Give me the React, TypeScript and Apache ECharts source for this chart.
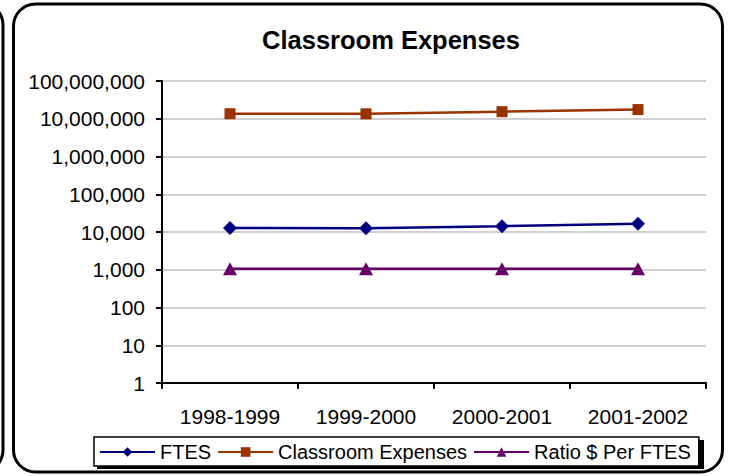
import React, { useEffect, useRef } from "react";
import * as echarts from "echarts";

const categories = ["1998-1999", "1999-2000", "2000-2001", "2001-2002"];
const ftes = [12700, 12600, 14300, 16600];
const classroomExpenses = [13600000, 13500000, 15400000, 17500000];
const ratioPerFtes = [1070, 1070, 1070, 1060];
const seriesNames = ["FTES", "Classroom Expenses", "Ratio $ Per FTES"];
const yMin = 1;
const yMax = 100000000;

const FONT = "'Liberation Sans', Arial, sans-serif";

export default function App() {
  const ref = useRef<HTMLDivElement>(null);
  useEffect(() => {
    document.body.style.margin = "0";
    const chart = echarts.init(ref.current!, null, { renderer: "svg" });
    chart.setOption({
      animation: false,
      backgroundColor: "#ffffff",
      title: {
        text: "Classroom Expenses",
        left: 391,
        textAlign: "center",
        top: 27,
        padding: 0,
        textStyle: { fontFamily: FONT, fontSize: 25.5, fontWeight: "bold", color: "#000" },
      },
      graphic: [
        {
          type: "rect",
          z: -10,
          shape: { x: -720, y: 3, width: 723, height: 469, r: 22 },
          style: { fill: "#fff", stroke: "#000", lineWidth: 3 },
          silent: true,
        },
        {
          type: "rect",
          z: -10,
          shape: { x: 13.5, y: 4, width: 709, height: 468, r: 22 },
          style: { fill: "#fff", stroke: "#000", lineWidth: 3 },
          silent: true,
        },
        {
          type: "rect",
          z: -5,
          shape: { x: 97, y: 440, width: 607, height: 29 },
          style: { fill: "#000" },
          silent: true,
        },
      ],
      grid: { left: 162, right: 24, top: 81, bottom: 93, containLabel: false },
      legend: {
        left: 94,
        top: 437,
        padding: [5, 8, 4, 5],
        itemGap: 6,
        itemWidth: 55,
        itemHeight: 12,
        backgroundColor: "#fff",
        borderColor: "#000",
        borderWidth: 1.5,
        borderRadius: 0,
        textStyle: { fontFamily: FONT, fontSize: 20, color: "#000" },
        data: seriesNames,
      },
      xAxis: {
        type: "category",
        data: categories,
        boundaryGap: true,
        axisLine: { lineStyle: { color: "#000", width: 2 } },
        axisTick: { show: true, length: 6, lineStyle: { color: "#000", width: 2 } },
        axisLabel: { fontFamily: FONT, fontSize: 21, color: "#000", margin: 23 },
        splitLine: { show: false },
      },
      yAxis: {
        type: "log",
        logBase: 10,
        min: yMin,
        max: yMax,
        axisLine: { show: true, lineStyle: { color: "#000", width: 2 } },
        axisTick: { show: true, length: 6, lineStyle: { color: "#000", width: 2 } },
        axisLabel: {
          fontFamily: FONT,
          fontSize: 21,
          color: "#000",
          margin: 17,
          formatter: (v: number) => Math.round(v).toLocaleString("en-US"),
        },
        splitLine: { show: true, lineStyle: { color: "#c0c0c0", width: 1.5 } },
        minorTick: { show: false },
      },
      series: [
        {
          name: seriesNames[0],
          type: "line",
          data: ftes,
          symbol: "diamond",
          symbolSize: [14, 14],
          lineStyle: { color: "#000080", width: 2.5 },
          itemStyle: { color: "#000080" },
        },
        {
          name: seriesNames[1],
          type: "line",
          data: classroomExpenses,
          symbol: "rect",
          symbolSize: 11,
          lineStyle: { color: "#993300", width: 2.5 },
          itemStyle: { color: "#993300" },
        },
        {
          name: seriesNames[2],
          type: "line",
          data: ratioPerFtes,
          symbol: "triangle",
          symbolSize: [14, 13],
          lineStyle: { color: "#660066", width: 2.5 },
          itemStyle: { color: "#660066" },
        },
      ],
    });
    return () => chart.dispose();
  }, []);
  return <div ref={ref} style={{ position: "fixed", left: 0, top: 0, width: 730, height: 476 }} />;
}
